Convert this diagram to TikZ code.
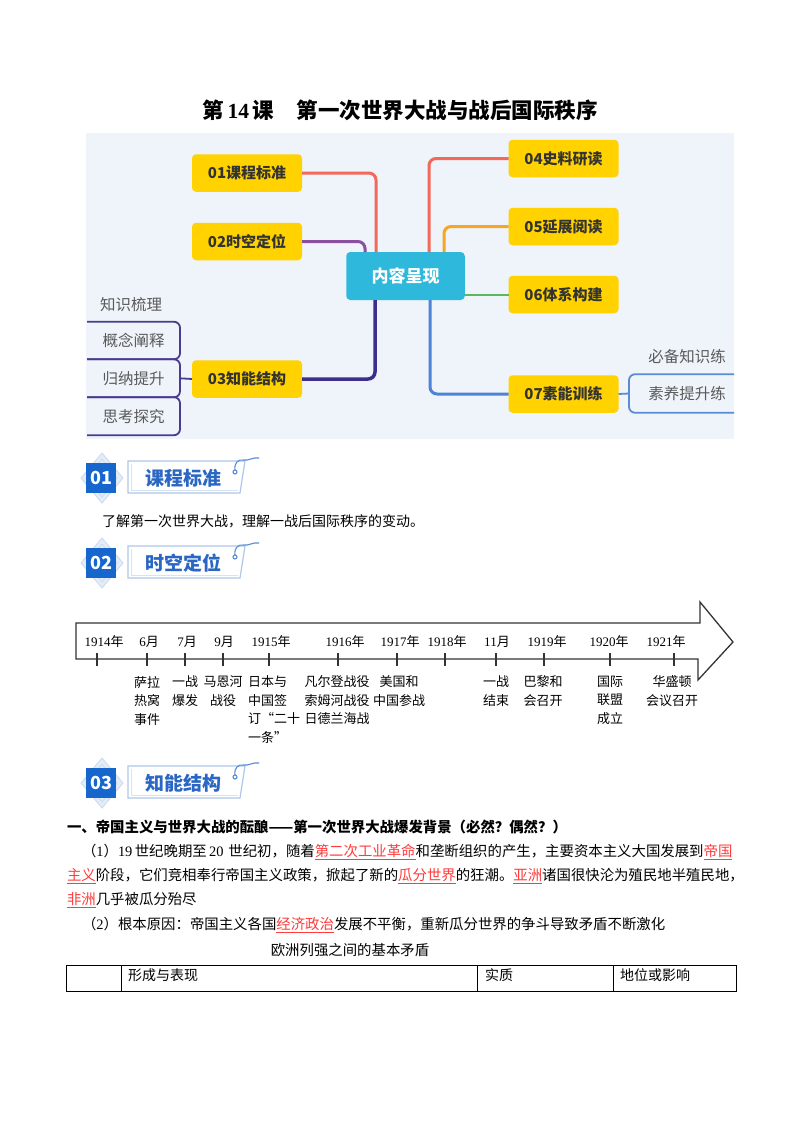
\documentclass[tikz,border=0pt]{standalone}
\usepackage{fontspec}
\setmainfont{Noto Sans CJK SC}
\newfontfamily\ser{Liberation Serif}
\usetikzlibrary{calc}
\definecolor{mmbg}{HTML}{EEF4FA}
\definecolor{myellow}{HTML}{FFD200}
\definecolor{mcyan}{HTML}{2DB8DC}
\definecolor{tdark}{HTML}{333333}
\definecolor{lred}{HTML}{F2695C}
\definecolor{lpurple}{HTML}{8B4FA0}
\definecolor{lindigo}{HTML}{3C2E8C}
\definecolor{lorange}{HTML}{F6A623}
\definecolor{lgreen}{HTML}{5CB85C}
\definecolor{lblue}{HTML}{4D82D6}
\definecolor{bindigo}{HTML}{4A3B8F}
\definecolor{bblue}{HTML}{5A8BD6}
\definecolor{subgrey}{HTML}{5A5A5A}
\definecolor{bsq}{HTML}{1766CE}
\definecolor{lboxc}{HTML}{AFC7E8}
\definecolor{lboxin}{HTML}{D6E3F3}
\definecolor{btext}{HTML}{2A67C4}
\definecolor{diafill}{HTML}{E3ECF7}
\definecolor{diaedge}{HTML}{C9D9EE}
\definecolor{myred}{HTML}{FF3B3B}
\definecolor{tlgrey}{HTML}{333333}
\newcommand\rl[1]{\textcolor{myred}{\underline{#1}}}
\newcommand\fs[1]{\fontsize{#1}{#1}\selectfont}
\newcommand\badge[4]{%
  \fill[diafill,draw=diaedge,line width=0.8pt] (102,#4-25) -- (123,#4) -- (102,#4+25) -- (81,#4) -- cycle;
  \draw[diaedge,line width=0.6pt] (102,#4-19) -- (117,#4) -- (102,#4+19) -- (87,#4) -- cycle;
  \node[fill=bsq, minimum width=30pt, minimum height=30pt, text=white, font=\bfseries\fs{18}] (#1n) at (101,#4) {#2};
  \draw[lboxin,line width=1pt] (131,#4-14) -- (131,#4+12) -- (238,#4+12);
  \draw[lboxc,line width=1.2pt] (128,#4-17) -- (245,#4-17) -- (240,#4+15) -- (128,#4+15) -- cycle;
  \node[text=btext, font=\bfseries\fs{19}] (#1t) at (183,#4) {#3};
  \draw[bblue,line width=1.1pt] (235,#4-6) circle (2pt);
  \draw[bblue,line width=1.1pt] (235,#4-8) .. controls (234,#4-15) and (238,#4-19) .. (244,#4-18) .. controls (249,#4-17) and (252,#4-21) .. (259,#4-20);
}
\begin{document}
\begin{tikzpicture}[x=1pt,y=-1pt,
  every node/.style={inner sep=0pt, outer sep=0pt},
  ybox/.style={fill=myellow, rounded corners=4pt, minimum width=110pt, minimum height=37.5pt, font=\bfseries\fs{15}, text=tdark},
  cbox/.style={fill=mcyan, rounded corners=4pt, minimum width=118.5pt, minimum height=48pt, font=\bfseries\fs{17}, text=white},
  conn/.style={line width=3pt, rounded corners=7pt},
  subitem/.style={font=\fs{15.5}, text=subgrey},
  brk/.style={line width=1.8pt},
  tline/.style={draw=tlgrey, line width=1.3pt, line join=miter},
  ytext/.style={font=\fs{13}, text=black},
  ev/.style={font=\fontsize{13}{18.5}\selectfont, align=center, anchor=north, text=black},
  body/.style={font=\fs{14.4}, anchor=west, text=black}
]
\fill[white] (0,0) rectangle (800,1132);
\useasboundingbox (0,0) rectangle (800,1132);

% title
\node[anchor=west,font=\bfseries\fs{21.5}] (title) at (202,110) {第\hspace{4pt}{\ser 14}\hspace{3.5pt}课\hspace{23pt}第一次世界大战与战后国际秩序};

% mind map background
\fill[mmbg] (86,133) rectangle (734,439);

% nodes
\node[ybox] (m01) at (247,173) {01课程标准};
\node[ybox] (m02) at (247,241.5) {02时空定位};
\node[ybox] (m03) at (247,379) {03知能结构};
\node[cbox] (ctr) at (405.5,276) {内容呈现};
\node[ybox] (m04) at (563.5,158.5) {04史料研读};
\node[ybox] (m05) at (563.5,226.5) {05延展阅读};
\node[ybox] (m06) at (563.5,294.5) {06体系构建};
\node[ybox] (m07) at (563.5,394) {07素能训练};

\coordinate (x01) at (376,0);
\coordinate (x02) at (365,0);
\coordinate (x03) at (375,0);
\coordinate (x04) at (429,0);
\coordinate (x05) at (444,0);
\coordinate (x07) at (430,0);
\draw[conn,lred] (m01.east) -| (x01 |- ctr.north);
\draw[conn,lpurple] (m02.east) -| (x02 |- ctr.north);
\draw[conn,lindigo,line width=3.5pt] (x03 |- ctr.south) |- (m03.east);
\draw[conn,lred] (x04 |- ctr.north) |- (m04.west);
\draw[conn,lorange] (x05 |- ctr.north) |- (m05.west);
\draw[lgreen,line width=2pt] (ctr.east |- m06.west) -- (m06.west);
\draw[conn,lblue] (x07 |- ctr.south) |- (m07.west);

% left sub items
\node[subitem] (s1) at (131,305) {知识梳理};
\node[subitem, minimum width=93pt, minimum height=37.5pt] (s2) at (133.5,340.5) {概念阐释};
\node[subitem, minimum width=93pt, minimum height=38pt] (s3) at (133.5,378.3) {归纳提升};
\node[subitem, minimum width=93pt, minimum height=38pt] (s4) at (133.5,416.2) {思考探究};
\draw[brk,bindigo,rounded corners=6pt] (s2.north west) -| (s2.south east) -- (s2.south west);
\draw[brk,bindigo,rounded corners=6pt] (s3.north west) -| (s3.south east) -- (s3.south west);
\draw[brk,bindigo,rounded corners=6pt] (s4.north west) -| (s4.south east) -- (s4.south west);
\draw[brk,bindigo] (s3.east) -- (m03.west);

% right sub items
\node[subitem] (t1) at (687,357) {必备知识练};
\node[subitem, minimum width=116pt, minimum height=38.5pt] (t2) at (687,393.5) {素养提升练};
\coordinate (rb) at (734,0);
\draw[brk,bblue,rounded corners=6pt] (rb |- t2.north) -| (t2.south west) -- (rb |- t2.south);
\draw[brk,bblue] (m07.east) -- (t2.west);

% section 01
\badge{h1}{01}{课程标准}{478}
\node[anchor=west,font=\fs{14}] (intro) at (102,521) {了解第一次世界大战，理解一战后国际秩序的变动。};

% section 02
\badge{h2}{02}{时空定位}{563}

% timeline arrow
\draw[tline] (76,623) -- (700,623) -- (700,602) -- (733,642) -- (698,680) -- (698,659) -- (76,659) -- cycle;
\foreach \t/\c/\num/\unit [count=\i] in {97/104/1914/年, 147/149/6/月, 185/187/7/月, 223/224/9/月, 269/271/1915/年, 338/345/1916/年, 397/400/1917/年, 445/447/1918/年, 496/497/11/月, 544/547/1919/年, 610/609/1920/年, 674/666/1921/年}{
  \draw[tlgrey,line width=1.2pt] (\t,653) -- (\t,666);
  \node[ytext] (yr\i) at (\c,642) {{\ser \num}\unit};
}
\node[ev] (e1) at (147,676) {萨拉\\热窝\\事件};
\node[ev] (e2) at (185,676) {一战\\爆发};
\node[ev] (e3) at (223,676) {马恩河\\战役};
\node[ev,anchor=north west,align=left] (e4) at (248,676) {日本与\\中国签\\订“二十\\一条”};
\node[ev] (e5) at (337,676) {凡尔登战役\\索姆河战役\\日德兰海战};
\node[ev] (e6) at (399,676) {美国和\\中国参战};
\node[ev] (e7) at (496,676) {一战\\结束};
\node[ev] (e8) at (543,676) {巴黎和\\会召开};
\node[ev] (e9) at (610,676) {国际\\联盟\\成立};
\node[ev] (e10) at (672,676) {华盛顿\\会议召开};

% section 03
\badge{h3}{03}{知能结构}{783}

\node[body,font=\bfseries\fs{14.4}] (hd) at (67,827) {一、帝国主义与世界大战的酝酿——第一次世界大战爆发背景（必然？偶然？）};
\node[body] (p1) at (82,852) {（{\ser 1}）{\ser 19}\,世纪晚期至\,{\ser 20}\,\,世纪初，随着\rl{第二次工业革命}和垄断组织的产生，主要资本主义大国发展到\rl{帝国}};
\node[body] (p2) at (67,876) {\rl{主义}阶段，它们竞相奉行帝国主义政策，掀起了新的\rl{瓜分世界}的狂潮。\rl{亚洲}诸国很快沦为殖民地半殖民地，};
\node[body] (p3) at (67,900) {\rl{非洲}几乎被瓜分殆尽};
\node[body] (p4) at (82,925) {（{\ser 2}）根本原因：帝国主义各国\rl{经济政治}发展不平衡，重新瓜分世界的争斗导致矛盾不断激化};
\node[font=\fs{14.4}] (cap) at (350,950) {欧洲列强之间的基本矛盾};

% table
\draw[black,line width=0.9pt] (66,965) rectangle (736,991);
\draw[black,line width=0.9pt] (121,965) -- (121,991) (477,965) -- (477,991) (613,965) -- (613,991);
\node[body,font=\fs{14}] (c1) at (128,975) {形成与表现};
\node[body,font=\fs{14}] (c2) at (485,975) {实质};
\node[body,font=\fs{14}] (c3) at (620,975) {地位或影响};
\end{tikzpicture}
\end{document}
